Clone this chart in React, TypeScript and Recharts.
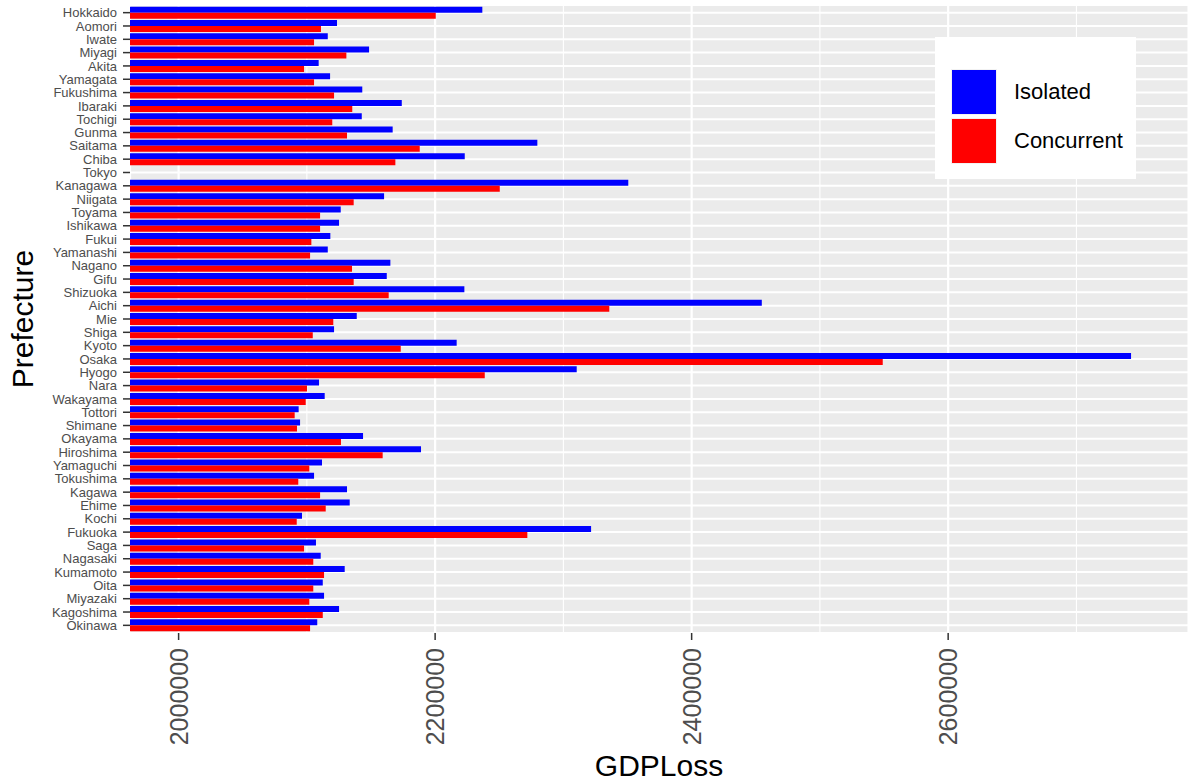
import { BarChart, Bar, XAxis, YAxis, CartesianGrid, Legend } from 'recharts';

const prefectures = [
    'Hokkaido', 'Aomori', 'Iwate', 'Miyagi', 'Akita', 'Yamagata', 'Fukushima', 'Ibaraki',
    'Tochigi', 'Gunma', 'Saitama', 'Chiba', 'Tokyo', 'Kanagawa', 'Niigata', 'Toyama',
    'Ishikawa', 'Fukui', 'Yamanashi', 'Nagano', 'Gifu', 'Shizuoka', 'Aichi', 'Mie',
    'Shiga', 'Kyoto', 'Osaka', 'Hyogo', 'Nara', 'Wakayama', 'Tottori', 'Shimane',
    'Okayama', 'Hiroshima', 'Yamaguchi', 'Tokushima', 'Kagawa', 'Ehime', 'Kochi', 'Fukuoka',
    'Saga', 'Nagasaki', 'Kumamoto', 'Oita', 'Miyazaki', 'Kagoshima', 'Okinawa',
];

// GDP loss when the prefecture is hit alone
const isolated = [
    2236800, 2123500, 2116300, 2148500, 2109200, 2118100, 2143200, 2174000,
    2142800, 2166900, 2279700, 2223100, null, 2350600, 2160200, 2126400,
    2125100, 2118300, 2116300, 2165100, 2162300, 2222800, 2454700, 2138900,
    2121200, 2216800, 2742600, 2310400, 2109500, 2113900, 2093600, 2094700,
    2143800, 2189000, 2111800, 2105600, 2131300, 2133400, 2096200, 2321600,
    2107100, 2110800, 2129500, 2112400, 2113400, 2125100, 2108100,
];

// GDP loss when hit together with Tokyo
const concurrent = [
    2200500, 2111000, 2105600, 2130800, 2097800, 2105600, 2121200, 2135400,
    2119800, 2131300, 2188000, 2169000, null, 2250400, 2136500, 2110300,
    2110300, 2103500, 2102500, 2135200, 2136500, 2163800, 2335800, 2120600,
    2104600, 2173200, 2549000, 2238700, 2100100, 2099100, 2090500, 2092300,
    2126600, 2159100, 2101900, 2093300, 2110300, 2114700, 2092100, 2271900,
    2097800, 2105000, 2113400, 2105000, 2101900, 2112400, 2102500,
];

const xDomain = [1962100, 2787000];
const xTicks = [2000000, 2100000, 2200000, 2300000, 2400000, 2500000, 2600000, 2700000];
const majorTicks = [2000000, 2200000, 2400000, 2600000];

const seriesInfo = [
    { key: 'Isolated', color: '#0000FF' },
    { key: 'Concurrent', color: '#FF0000' },
];

const FONT = '"Liberation Sans", Arial, sans-serif';

const data = prefectures.map((p, i) => ({
    prefecture: p,
    Isolated: isolated[i],
    Concurrent: concurrent[i],
}));

const XTick = (props: any) => {
    const { x, y, payload } = props;
    if (!majorTicks.includes(payload.value)) return null;
    const ty = y + 15;
    return (
        <g>
            <line x1={x} x2={x} y1={y} y2={y + 7} stroke="#333333" strokeWidth={1.5} />
            <text
                x={x}
                y={ty}
                transform={`rotate(-90, ${x}, ${ty})`}
                textAnchor="end"
                dominantBaseline="central"
                fontSize={25}
                fontFamily={FONT}
                fill="#4d4d4d"
            >
                {payload.value}
            </text>
        </g>
    );
};

const GridLine = (props: any) => {
    const { x1, x2, y1, y2, index } = props;
    const major = index % 2 === 0;
    return <line x1={x1} x2={x2} y1={y1} y2={y2} stroke="#FFFFFF" strokeWidth={major ? 2.2 : 1.1} />;
};

const LegendBox = () => (
    <div style={{ width: 201, height: 142, background: '#fff', position: 'relative', fontFamily: FONT }}>
        {seriesInfo.map((s, i) => (
            <div key={s.key} style={{ position: 'absolute', left: 16, top: 32 + i * 48.5, display: 'flex', alignItems: 'center' }}>
                <div style={{ width: 44, height: 44, background: s.color, border: '1px solid #f2f2f2' }} />
                <span style={{ marginLeft: 17, fontSize: 22, color: '#000' }}>{s.key}</span>
            </div>
        ))}
    </div>
);

export default function App() {
    return (
        <div style={{ position: 'absolute', left: 0, top: 0, width: 1192, height: 782, background: '#fff' }}>
            <BarChart
                width={1192}
                height={782}
                data={data}
                layout="vertical"
                margin={{ top: 5, right: 4, bottom: 0, left: 0 }}
                barCategoryGap="5%"
                barGap={0}
            >
                <CartesianGrid
                    fill="#EBEBEB"
                    stroke="#FFFFFF"
                    strokeWidth={2}
                    vertical={GridLine}
                />
                <XAxis
                    type="number"
                    domain={xDomain}
                    allowDataOverflow
                    ticks={xTicks}
                    interval={0}
                    axisLine={false}
                    tickLine={false}
                    tickSize={0}
                    tickMargin={0}
                    height={149}
                    tick={<XTick />}
                    label={{
                        value: 'GDPLoss',
                        position: 'insideBottom',
                        offset: 6,
                        fontSize: 30,
                        fontFamily: FONT,
                        fill: '#000',
                    }}
                />
                <YAxis
                    type="category"
                    dataKey="prefecture"
                    width={130}
                    interval={0}
                    axisLine={false}
                    tickSize={7}
                    tickMargin={6}
                    padding={{ top: 1, bottom: 1 }}
                    tickLine={{ stroke: '#333333', strokeWidth: 1.5 }}
                    tick={{ fontSize: 13, fill: '#4d4d4d', fontFamily: FONT }}
                    label={{
                        value: 'Prefecture',
                        angle: -90,
                        position: 'insideLeft',
                        offset: 22,
                        style: { textAnchor: 'middle' },
                        fontSize: 30,
                        fontFamily: FONT,
                        fill: '#000',
                    }}
                />
                <Legend
                    layout="vertical"
                    align="center"
                    verticalAlign="middle"
                    wrapperStyle={{ left: 935, top: 37, width: 201, height: 142 }}
                    content={<LegendBox />}
                />
                {seriesInfo.map((s) => (
                    <Bar key={s.key} dataKey={s.key} name={s.key} fill={s.color} isAnimationActive={false} />
                ))}
            </BarChart>
        </div>
    );
}
